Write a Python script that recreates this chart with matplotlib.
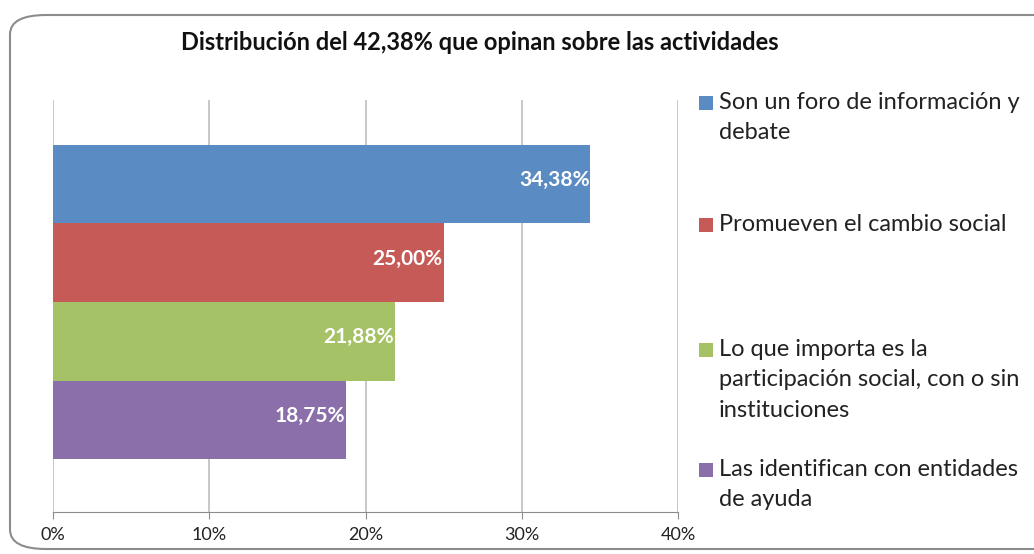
import numpy as np
import matplotlib.pyplot as plt
from matplotlib.patches import FancyBboxPatch, Rectangle

# Data
categories = [
    'Son un foro de información y\ndebate',
    'Promueven el cambio social',
    'Lo que importa es la\nparticipación social, con o sin\ninstituciones',
    'Las identifican con entidades\nde ayuda',
]
values = [34.38, 25.00, 21.88, 18.75]
colors = ['#5B8BC3', '#C65A56', '#A5C266', '#8A6FAA']
ticks = [0, 10, 20, 30, 40]
tick_labels = ['0%', '10%', '20%', '30%', '40%']

plt.rcParams['font.family'] = ['Lato', 'DejaVu Sans']

fig = plt.figure(figsize=(10.34, 5.54), dpi=100)

# Rounded chart border (right side runs off the picture)
border = FancyBboxPatch((10 / 1034, 1 - 549 / 554), 1.05, (549 - 15) / 554,
                        boxstyle='round,pad=0,rounding_size=0.035',
                        transform=fig.transFigure, fill=False,
                        edgecolor='#8C8C8C', linewidth=1.5)
fig.patches.append(border)

ax = fig.add_axes([53 / 1034, 1 - 512 / 554, (678 - 53) / 1034, (512 - 100) / 554])

ypos = np.arange(len(values))[::-1]
ax.barh(ypos, values, height=1.0, color=colors, zorder=3)

for y, v in zip(ypos, values):
    ax.text(v - 0.05, y + 0.05, f'{v:.2f}%'.replace('.', ','), ha='right', va='center',
            color='white', fontsize=15, fontweight='bold', zorder=4)

ax.set_xlim(0, 40)
ax.set_ylim(-1.175, 4.073)
ax.set_xticks(ticks)
ax.set_xticklabels(tick_labels, fontsize=13, color='#222222')
ax.set_yticks([])
ax.grid(axis='x', color='#BDBDBD', linewidth=1.2, zorder=0)
for side in ['top', 'right', 'left']:
    ax.spines[side].set_visible(False)
ax.spines['bottom'].set_color('#8C8C8C')
ax.tick_params(axis='x', direction='out', length=5, color='#8C8C8C', pad=6)

fig.text(480 / 1034, 1 - 42 / 554, 'Distribución del 42,38% que opinan sobre las actividades',
         ha='center', va='center', fontsize=17, fontweight='bold', color='#111111')

# Legend, drawn by hand to keep the uneven Excel spacing
legend_tops = [92, 214, 339, 459]
for lab, col, top in zip(categories, colors, legend_tops):
    fig.patches.append(Rectangle((699 / 1034, 1 - (top + 18) / 554), 14 / 1034, 14 / 554,
                                 transform=fig.transFigure, facecolor=col, edgecolor='none'))
    fig.text(719 / 1034, 1 - top / 554, lab, ha='left', va='top', fontsize=17,
             color='#222222', linespacing=1.55)

fig.savefig('out.png', dpi=100)
